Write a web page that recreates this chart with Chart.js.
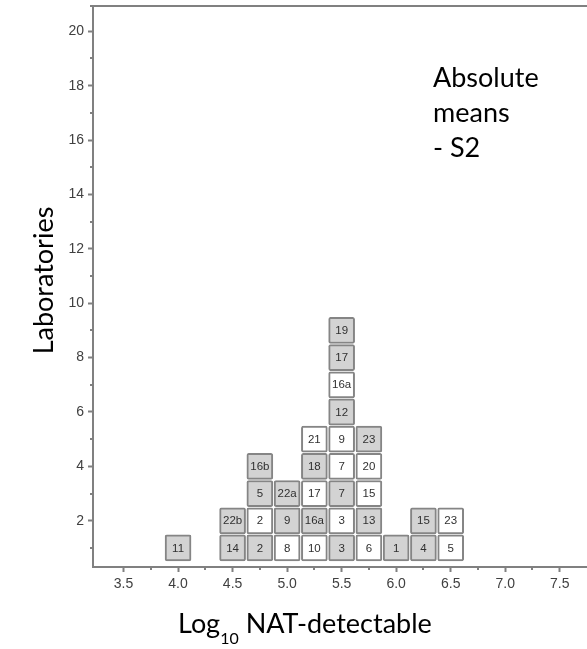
<!DOCTYPE html>
<html>
<head>
<meta charset="utf-8">
<title>Absolute means - S2</title>
<script src="https://cdn.jsdelivr.net/npm/chart.js@4.4.1/dist/chart.umd.min.js"></script>
<style>
  html, body { margin: 0; padding: 0; background: #fff; }
  #wrap { width: 587px; height: 649px; position: relative; }
</style>
</head>
<body>
<div id="wrap"><canvas id="labChart"></canvas></div>
<script>
(function(){
  // one stack of lab boxes per bin on the Log10 axis, bottom box first
  const binCenters = [4.0, 4.5, 4.75, 5.0, 5.25, 5.5, 5.75, 6.0, 6.25, 6.5];
  const binLabels = [
    ['11'],
    ['14', '22b'],
    ['2', '2', '5', '16b'],
    ['8', '9', '22a'],
    ['10', '16a', '17', '18', '21'],
    ['3', '3', '7', '7', '9', '12', '16a', '17', '19'],
    ['6', '13', '15', '20', '23'],
    ['1'],
    ['4', '15'],
    ['5', '23']
  ];
  // 1 = grey box, 0 = white box
  const binShaded = [
    [1],
    [1, 1],
    [1, 0, 1, 1],
    [0, 1, 1],
    [0, 1, 0, 1, 0],
    [1, 0, 1, 0, 0, 1, 0, 1, 1],
    [0, 1, 0, 0, 1],
    [1],
    [1, 1],
    [0, 0]
  ];

  const xTicks = [3.5, 4.0, 4.5, 5.0, 5.5, 6.0, 6.5, 7.0, 7.5];
  const xMinorTicks = [3.75, 4.25, 4.75, 5.25, 5.75, 6.25, 6.75, 7.25];
  const yTicks = [2, 4, 6, 8, 10, 12, 14, 16, 18, 20];
  const yMinorTicks = [1, 3, 5, 7, 9, 11, 13, 15, 17, 19];

  const noteLines = ['Absolute', 'means', '- S2'];

  const AXIS_GREY = '#808080';
  const BOX_EDGE = '#858585';
  const BOX_GREY = '#d3d3d3';
  const TITLE_FONT = 'Lato, "Open Sans", sans-serif';
  const TICK_FONT = '"Liberation Sans", Arial, sans-serif';

  function buildBoxes(shaded){
    const out = [];
    binCenters.forEach((x, i) => {
      binLabels[i].forEach((lab, k) => {
        if ((binShaded[i][k] === 1) !== shaded) return;
        const row = k + 1;
        out.push({ x: x, y: [row - 0.48, row + 0.48], lab: lab });
      });
    });
    return out;
  }

  // labels inside the boxes
  const boxLabels = {
    id: 'boxLabels',
    afterDatasetsDraw(chart){
      const ctx = chart.ctx;
      ctx.save();
      ctx.font = '11.5px ' + TICK_FONT;
      ctx.fillStyle = '#303030';
      ctx.textAlign = 'center';
      ctx.textBaseline = 'middle';
      chart.data.datasets.forEach((ds, di) => {
        chart.getDatasetMeta(di).data.forEach((el, i) => {
          const p = el.getProps(['x', 'y', 'base'], true);
          ctx.fillText(ds.data[i].lab, p.x, (p.y + p.base) / 2 + 0.5);
        });
      });
      ctx.restore();
    }
  };

  // short minor ticks and the top frame line
  const frame = {
    id: 'frame',
    afterDraw(chart){
      const ctx = chart.ctx, a = chart.chartArea;
      const xs = chart.scales.x, ys = chart.scales.y;
      ctx.save();
      ctx.strokeStyle = AXIS_GREY;
      ctx.lineWidth = 2;
      ctx.beginPath();
      ctx.moveTo(a.left - 3, a.top);
      ctx.lineTo(a.right, a.top);
      xMinorTicks.forEach(v => {
        const px = Math.round(xs.getPixelForValue(v));
        ctx.moveTo(px, a.bottom);
        ctx.lineTo(px, a.bottom + 3);
      });
      yMinorTicks.forEach(v => {
        const py = Math.round(ys.getPixelForValue(v));
        ctx.moveTo(a.left, py);
        ctx.lineTo(a.left - 3, py);
      });
      ctx.stroke();
      ctx.restore();
    }
  };

  // axis titles (with subscript) and the corner note
  const texts = {
    id: 'texts',
    afterDraw(chart){
      const ctx = chart.ctx, a = chart.chartArea;
      ctx.save();
      ctx.fillStyle = '#000';
      ctx.textBaseline = 'alphabetic';

      ctx.save();
      ctx.font = '27px ' + TITLE_FONT;
      ctx.textAlign = 'center';
      ctx.translate(a.left - 40, (a.top + a.bottom) / 2 - 6);
      ctx.rotate(-Math.PI / 2);
      ctx.fillText('Laboratories', 0, 0);
      ctx.restore();

      ctx.textAlign = 'left';
      let x = 178;
      const base = a.bottom + 66;
      ctx.font = '27px ' + TITLE_FONT;
      ctx.fillText('Log', x, base);
      x += ctx.measureText('Log').width;
      ctx.font = '16px ' + TITLE_FONT;
      ctx.fillText('10', x, base + 11);
      x += ctx.measureText('10').width;
      ctx.font = '27px ' + TITLE_FONT;
      ctx.fillText(' NAT-detectable', x, base);

      noteLines.forEach((line, i) => {
        ctx.fillText(line, 433, a.top + 81 + i * 35);
      });
      ctx.restore();
    }
  };

  function trimPadding(s){
    s.paddingTop = 0; s.paddingBottom = 0;
    s.paddingLeft = 0; s.paddingRight = 0;
  }

  const ctx = document.getElementById('labChart');
  new Chart(ctx, {
    type: 'bar',
    data: {
      datasets: [
        { label: 'grey', data: buildBoxes(true), backgroundColor: BOX_GREY },
        { label: 'white', data: buildBoxes(false), backgroundColor: '#ffffff' }
      ]
    },
    options: {
      responsive: true,
      maintainAspectRatio: false,
      animation: false,
      events: [],
      layout: { padding: { top: 6, right: 0, bottom: 0, left: 0 } },
      datasets: {
        bar: {
          grouped: false,
          barThickness: 26,
          borderColor: BOX_EDGE,
          borderWidth: 2,
          borderRadius: 2,
          borderSkipped: false
        }
      },
      scales: {
        x: {
          type: 'linear',
          offset: false,
          min: 3.22,
          max: 7.75,
          afterBuildTicks: s => { s.ticks = xTicks.map(v => ({ value: v })); },
          afterFit: s => { s.height = 82; trimPadding(s); },
          ticks: {
            color: '#404040',
            padding: 4,
            font: { family: TICK_FONT, size: 14 },
            callback: v => Number(v).toFixed(1)
          },
          grid: { offset: false, drawOnChartArea: false, tickLength: 5, tickColor: AXIS_GREY, tickWidth: 2 },
          border: { color: AXIS_GREY, width: 2 }
        },
        y: {
          type: 'linear',
          min: 0.3,
          max: 20.93,
          afterBuildTicks: s => { s.ticks = yTicks.map(v => ({ value: v })); },
          afterFit: s => { s.width = 93; trimPadding(s); },
          ticks: {
            color: '#404040',
            padding: 4,
            font: { family: TICK_FONT, size: 14 }
          },
          grid: { drawOnChartArea: false, tickLength: 5, tickColor: AXIS_GREY, tickWidth: 2 },
          border: { color: AXIS_GREY, width: 2 }
        }
      },
      plugins: {
        legend: { display: false },
        tooltip: { enabled: false }
      }
    },
    plugins: [boxLabels, frame, texts]
  });
})();
</script>
</body>
</html>
